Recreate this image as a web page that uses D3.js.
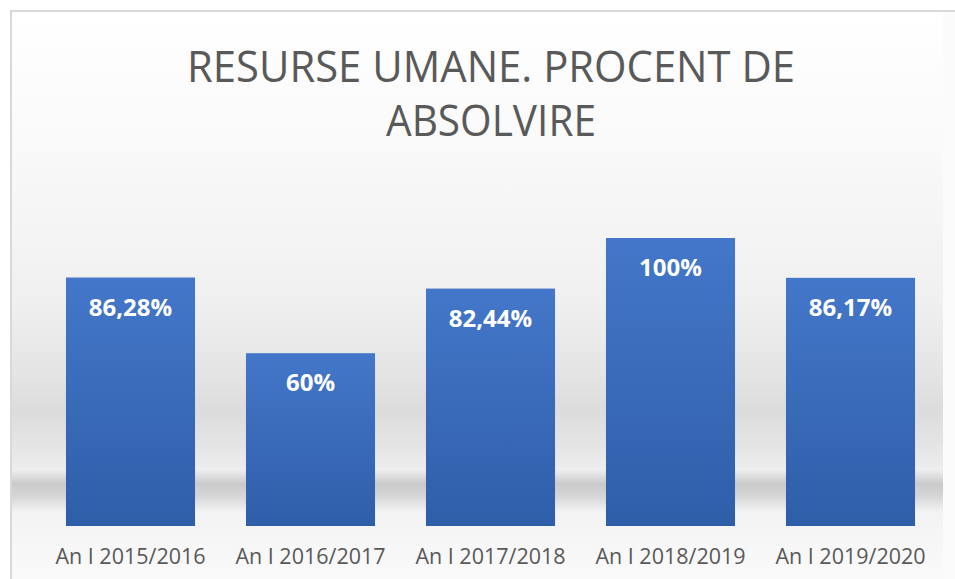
<!DOCTYPE html>
<html>
<head>
<meta charset="utf-8">
<script src="https://d3js.org/d3.v7.min.js"></script>
<style>
body { margin: 0; background: #fff; }
svg { display: block; }
.title { font-family: "Open Sans", sans-serif; font-weight: 400; fill: #595959; text-anchor: middle; }
.val { font-family: "Open Sans", sans-serif; font-weight: 700; fill: #fff; text-anchor: middle; }
.cat { font-family: "Open Sans", sans-serif; fill: #595959; text-anchor: middle; }
</style>
</head>
<body>
<svg id="chart" width="955" height="579"></svg>
<script>
// data
var categories = ["An I 2015/2016", "An I 2016/2017", "An I 2017/2018", "An I 2018/2019", "An I 2019/2020"];
var values = [86.28, 60, 82.44, 100, 86.17];
var titleLines = ["RESURSE UMANE. PROCENT DE", "ABSOLVIRE"];

var svg = d3.select("#chart");
var defs = svg.append("defs");

// wall background: white at top, grey band, soft floor shadow, light floor
var bg = defs.append("linearGradient").attr("id", "bg")
  .attr("gradientUnits", "userSpaceOnUse").attr("x1", 0).attr("y1", 11).attr("x2", 0).attr("y2", 579);
[[11, "#ffffff"], [150, "#f9f9f9"], [300, "#f0f0f0"], [380, "#e3e3e3"], [410, "#dcdcdc"],
 [450, "#e6e6e6"], [470, "#eeeeee"], [484, "#cacaca"], [496, "#d6d6d6"], [512, "#f3f3f3"], [579, "#fafafa"]]
  .forEach(function(s) { bg.append("stop").attr("offset", (s[0] - 11) / 568).attr("stop-color", s[1]); });

var barGrad = defs.append("linearGradient").attr("id", "barg")
  .attr("x1", 0).attr("y1", 0).attr("x2", 0).attr("y2", 1);
barGrad.append("stop").attr("offset", 0).attr("stop-color", "#4477c9");
barGrad.append("stop").attr("offset", 1).attr("stop-color", "#2f5ea9");

// frame (only top and left edge show in the crop)
svg.append("rect").attr("x", 11).attr("y", 11).attr("width", 960).attr("height", 600)
  .attr("fill", "#fbfbfb");
svg.append("rect").attr("x", 12).attr("y", 12).attr("width", 931).attr("height", 600)
  .attr("fill", "url(#bg)");
svg.append("rect").attr("x", 11).attr("y", 11).attr("width", 960).attr("height", 600)
  .attr("fill", "none").attr("stroke", "#d9d9d9").attr("stroke-width", 2);

var x = d3.scaleBand()
  .domain(categories)
  .range([40.5, 940.5])
  .paddingInner(0.283)
  .paddingOuter(0.1415);

var y = d3.scaleLinear()
  .domain([0, 100])
  .range([526, 238]);

// title
svg.selectAll(".title").data(titleLines).enter().append("text")
  .attr("class", "title")
  .attr("x", 491)
  .attr("y", function(d, i) { return 82 + i * 54; })
  .attr("font-size", 43)
  .attr("textLength", function(d, i) { return i == 0 ? 608 : 210; })
  .attr("lengthAdjust", "spacingAndGlyphs")
  .text(function(d) { return d; });

svg.selectAll(".bar").data(values).enter().append("rect")
  .attr("class", "bar")
  .attr("x", function(d, i) { return x(categories[i]); })
  .attr("y", function(d) { return y(d); })
  .attr("width", x.bandwidth())
  .attr("height", function(d) { return y(0) - y(d); })
  .attr("fill", "url(#barg)");

svg.selectAll(".val").data(values).enter().append("text")
  .attr("class", "val")
  .attr("x", function(d, i) { return x(categories[i]) + x.bandwidth() / 2; })
  .attr("y", function(d) { return y(d) + 38; })
  .attr("font-size", 24)
  .text(function(d) { return String(d).replace(".", ",") + "%"; });

// category axis labels
var axis = d3.axisBottom(x).tickSize(0).tickPadding(0);
var g = svg.append("g").attr("transform", "translate(0,526)").call(axis);
g.select(".domain").remove();
g.selectAll("text")
  .attr("class", "cat")
  .attr("dy", 0)
  .attr("y", 38)
  .attr("font-size", 21.5)
  .attr("fill", "#595959");
</script>
</body>
</html>
